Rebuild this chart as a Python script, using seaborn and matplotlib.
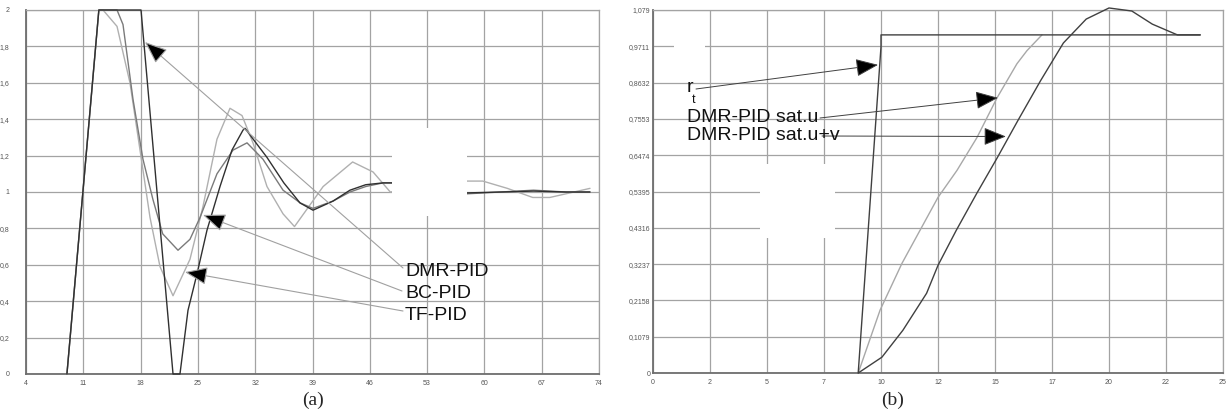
import numpy as np
import pandas as pd
import seaborn as sns
import matplotlib
matplotlib.use("Agg")
import matplotlib.pyplot as plt
from matplotlib.patches import Rectangle

# ---------------- data (a) ----------------
a_xticks = [4, 11, 18, 25, 32, 39, 46, 53, 60, 67, 74]
a_yticks = [0, 0.2, 0.4, 0.6, 0.8, 1.0, 1.2, 1.4, 1.6, 1.8, 2.0]
a_yticklabels = ["0", "0,2", "0,4", "0,6", "0,8", "1", "1,2", "1,4", "1,6", "1,8", "2"]

dmr_x = [9.0, 12.9, 18.05, 21.96, 22.81, 23.79, 24.89, 26.11, 27.7, 29.16, 30.51, 30.75,
         33.44, 35.5, 37.47, 39.06, 41.5, 43.58, 45.5, 47.61, 48.71,
         57.87, 62.0, 66.0, 70.0, 72.9]
dmr_y = [0.0, 2.0, 2.0, 0.0, 0.0, 0.35, 0.55, 0.79, 1.03, 1.23, 1.34, 1.35,
         1.19, 1.05, 0.94, 0.90, 0.95, 1.01, 1.04, 1.05, 1.05,
         0.995, 1.0, 1.005, 1.0, 1.0]

bc_x = [9.0, 12.9, 15.12, 15.85, 17.07, 18.29, 19.5, 20.7, 22.57, 24.03, 25.26, 27.33,
        29.29, 31.0, 32.95, 35.4, 37.5, 39.06, 41.5, 43.58, 45.5, 47.61, 48.71,
        57.87, 62.0, 66.0, 70.0, 72.9]
bc_y = [0.0, 2.0, 2.0, 1.92, 1.51, 1.18, 0.96, 0.77, 0.68, 0.74, 0.86, 1.10,
        1.23, 1.27, 1.18, 1.01, 0.94, 0.91, 0.95, 1.0, 1.03, 1.05, 1.05,
        0.99, 1.0, 1.01, 1.0, 1.0]

tf_x = [9.0, 12.9, 13.41, 15.12, 16.7, 17.93, 19.15, 20.37, 21.96, 24.03, 25.62, 27.33,
        28.92, 30.39, 31.73, 33.44, 35.4, 36.8, 40.3, 43.9, 46.4, 48.5,
        57.87, 59.8, 62.8, 65.9, 68.0, 72.9]
tf_y = [0.0, 2.0, 2.0, 1.91, 1.60, 1.23, 0.86, 0.59, 0.43, 0.63, 0.92, 1.29,
        1.46, 1.42, 1.27, 1.03, 0.88, 0.81, 1.03, 1.165, 1.11, 1.0,
        1.06, 1.06, 1.02, 0.97, 0.97, 1.02]

# ---------------- data (b) ----------------
b_xticks = [0, 2.5, 5, 7.5, 10, 12.5, 15, 17.5, 20, 22.5, 25]
b_xticklabels = ["0", "2", "5", "7", "10", "12", "15", "17", "20", "22", "25"]
b_yticks = [0, 0.1079, 0.2158, 0.3237, 0.4316, 0.5395, 0.6474, 0.7553, 0.8632, 0.9711, 1.079]
b_yticklabels = ["0", "0,1079", "0,2158", "0,3237", "0,4316", "0,5395", "0,6474",
                 "0,7553", "0,8632", "0,9711", "1,079"]

rt_x = [9.0, 10.0, 10.0, 24.0]
rt_y = [0.0, 0.97, 1.005, 1.005]

satu_x = [9.0, 9.96, 10.92, 11.71, 12.5, 13.33, 14.21, 15.09, 15.96, 16.4, 17.06]
satu_y = [0.0, 0.187, 0.326, 0.424, 0.522, 0.602, 0.70, 0.818, 0.919, 0.958, 1.005]

satuv_x = [9.0, 10.04, 10.96, 12.0, 12.5, 13.3, 14.2, 15.1, 16.0, 17.0, 18.0, 19.0,
           20.0, 21.0, 21.9, 23.0, 24.0]
satuv_y = [0.0, 0.047, 0.127, 0.237, 0.32, 0.424, 0.534, 0.64, 0.75, 0.869, 0.981, 1.052,
           1.085, 1.076, 1.037, 1.005, 1.005]

# ---------------- figure ----------------
sns.set_style("white")
plt.rcParams["font.family"] = ["Liberation Sans", "DejaVu Sans"]

W, H = 1226, 417
fig = plt.figure(figsize=(W / 100, H / 100), dpi=100)


def ax_rect(x0, y0, x1, y1):
    return [x0 / W, 1 - y1 / H, (x1 - x0) / W, (y1 - y0) / H]


def fpx(x, y):
    return (x / W, 1 - y / H)


axa = fig.add_axes(ax_rect(26, 10, 599, 374))
axb = fig.add_axes(ax_rect(653, 10, 1223, 373))

GRID = "#a3a3a3"
for ax in (axa, axb):
    ax.grid(True, color=GRID, lw=0.9)
    ax.set_axisbelow(True)
    for s in ax.spines.values():
        s.set_color(GRID)
        s.set_linewidth(0.9)
    ax.spines["left"].set_color("#6e6e6e")
    ax.spines["bottom"].set_color("#6e6e6e")
    ax.spines["left"].set_linewidth(1.3)
    ax.spines["bottom"].set_linewidth(1.3)
    ax.tick_params(length=0, labelsize=5, colors="#555555")

LINE = dict(sort=False, estimator=None, clip_on=False, zorder=3)

# panel (a)
sns.lineplot(x=tf_x, y=tf_y, ax=axa, color="#b0b0b0", lw=1.0, **LINE)
sns.lineplot(x=bc_x, y=bc_y, ax=axa, color="#7a7a7a", lw=1.0, **LINE)
sns.lineplot(x=dmr_x, y=dmr_y, ax=axa, color="#303030", lw=1.0, **LINE)
axa.set_xlim(4, 74)
axa.set_ylim(0, 2)
axa.set_xticks(a_xticks)
axa.set_xticklabels([str(v) for v in a_xticks])
axa.set_yticks(a_yticks)
axa.set_yticklabels(a_yticklabels)
axa.tick_params(axis="y", pad=12)
axa.tick_params(axis="x", pad=4)
axa.add_patch(Rectangle((48.75, 0.87), 9.1, 0.48, facecolor="white", edgecolor="none", zorder=4))

# panel (b)
sns.lineplot(x=satu_x, y=satu_y, ax=axb, color="#a8a8a8", lw=1.0, **LINE)
sns.lineplot(x=satuv_x, y=satuv_y, ax=axb, color="#404040", lw=1.0, **LINE)
sns.lineplot(x=rt_x, y=rt_y, ax=axb, color="#404040", lw=1.0, **LINE)
axb.set_xlim(0, 25)
axb.set_ylim(0, 1.079)
axb.set_xticks(b_xticks)
axb.set_xticklabels(b_xticklabels)
axb.set_yticks(b_yticks)
axb.set_yticklabels(b_yticklabels)
axb.tick_params(axis="y", pad=2)
axb.tick_params(axis="x", pad=4)
axb.add_patch(Rectangle((4.7, 0.40), 3.3, 0.22, facecolor="white", edgecolor="none", zorder=4))
axb.add_patch(Rectangle((0.9, 0.94), 1.4, 0.125, facecolor="white", edgecolor="none", zorder=4))

for a in (axa, axb):
    if a.get_legend():
        a.get_legend().remove()
    a.set_xlabel("")
    a.set_ylabel("")

# annotations (a)
TXT = dict(fontsize=14, color="#111111", family=["Liberation Sans", "DejaVu Sans"], va="center", ha="left")
fig.text(*fpx(405, 272), "DMR-PID", **TXT)
fig.text(*fpx(405, 294), "BC-PID", **TXT)
fig.text(*fpx(405, 315), "TF-PID", **TXT)

arrow_a = dict(arrowstyle="-|>,head_length=1.0,head_width=0.4", mutation_scale=14,
               ec="#a0a0a0", fc="black", lw=0.8, shrinkA=0, shrinkB=0)
for tip, start in [((18.54, 1.824), (403, 268)),
                   ((25.62, 0.874), (402, 291)),
                   ((23.42, 0.56), (403, 311))]:
    axa.annotate("", xy=tip, xycoords="data", xytext=fpx(*start),
                 textcoords="figure fraction", arrowprops=arrow_a, zorder=5)

# annotations (b)
fig.text(*fpx(687, 88), "r", **TXT)
fig.text(*fpx(692, 100), "t", fontsize=9, color="#111111", va="center", ha="left")
fig.text(*fpx(687, 117), "DMR-PID sat.u", **TXT)
fig.text(*fpx(687, 135), "DMR-PID sat.u+v", **TXT)

arrow_b = dict(arrowstyle="-|>,head_length=1.0,head_width=0.4", mutation_scale=14,
               ec="#404040", fc="black", lw=0.7, shrinkA=0, shrinkB=0)
for tip, start in [((9.87, 0.916), (696, 89)),
                   ((15.13, 0.818), (820, 118)),
                   ((15.48, 0.703), (822, 136))]:
    axb.annotate("", xy=tip, xycoords="data", xytext=fpx(*start),
                 textcoords="figure fraction", arrowprops=arrow_b, zorder=5)

# captions
fig.text(*fpx(313, 400), "(a)", fontsize=14, family=["Liberation Serif", "DejaVu Serif"],
         ha="center", va="center")
fig.text(*fpx(893, 400), "(b)", fontsize=14, family=["Liberation Serif", "DejaVu Serif"],
         ha="center", va="center")

fig.savefig("out.png", dpi=100, facecolor="white")
